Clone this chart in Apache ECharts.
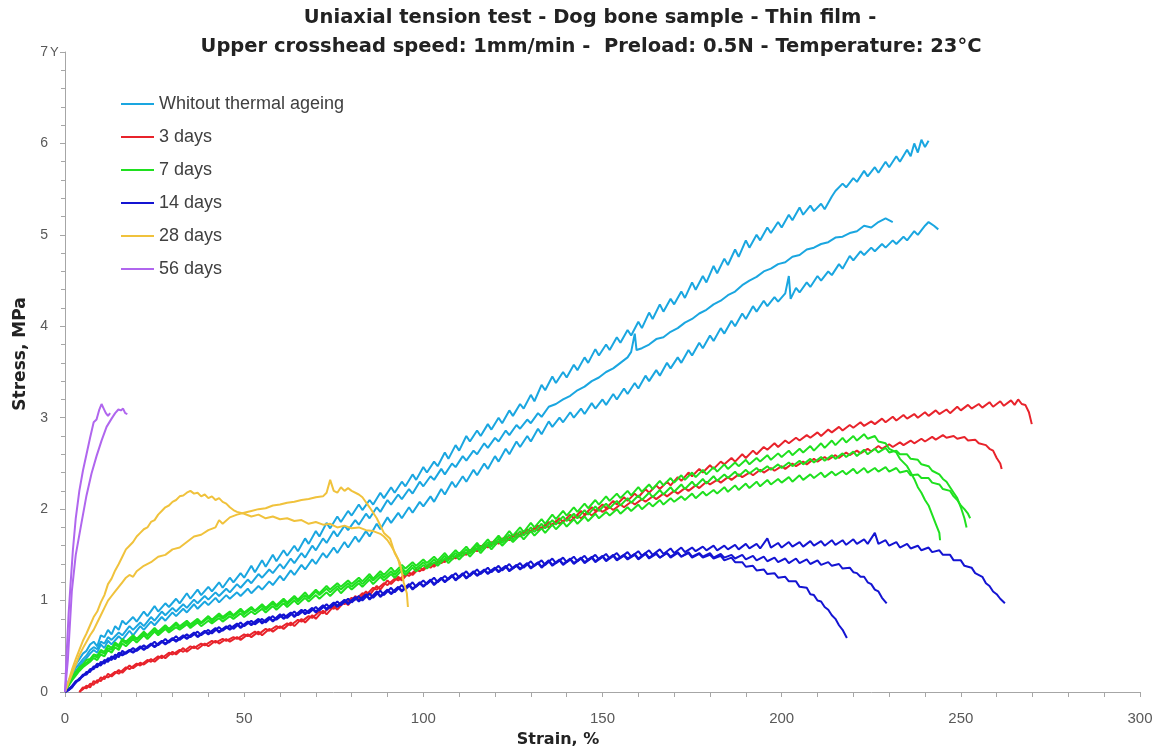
<!DOCTYPE html>
<html>
<head>
<meta charset="utf-8">
<script src="https://cdn.jsdelivr.net/npm/echarts@6/dist/echarts.min.js"></script>
<style>
  html, body { margin: 0; padding: 0; background: #fff; }
  #chart { width: 1157px; height: 752px; }
</style>
</head>
<body>
<div id="chart"></div>
<script>
// legend names, one per ageing time
const groupNames = ['Whitout thermal ageing', '3 days', '7 days', '14 days', '28 days', '56 days']
const xTicks = [0, 50, 100, 150, 200, 250, 300]
const yTicks = [0, 1, 2, 3, 4, 5, 6, 7]

// [strain %, stress MPa]
const unaged1 = [[0,0],[1,0.12],[2,0.2],[3,0.3],[4,0.36],[5,0.42],[6,0.45],[7,0.52],[8,0.55],[9,0.5],[10,0.62],[11,0.6],[12,0.68],[13,0.63],[14,0.72],[15,0.68],[16,0.78],[17,0.74],[19,0.82],[20,0.77],[22,0.88],[23,0.83],[25,0.94],[26,0.88],[28,0.97],[29,0.93],[31,1.02],[32,0.97],[34,1.08],[35,1.02],[37,1.12],[38,1.06],[40,1.15],[41,1.1],[43,1.2],[44,1.14],[46,1.25],[47,1.2],[49,1.3],[50,1.25],[52,1.38],[53,1.31],[55,1.44],[56,1.37],[58,1.5],[59,1.43],[61,1.55],[62,1.49],[64,1.6],[65,1.54],[67,1.68],[68,1.62],[70,1.76],[71,1.7],[73,1.85],[74,1.79],[76,1.92],[77,1.86],[79,1.98],[80,1.93],[82,2.05],[83,1.99],[85,2.1],[86,2.05],[88,2.18],[89,2.12],[91,2.24],[92,2.18],[94,2.3],[95,2.25],[97,2.38],[98,2.32],[100,2.46],[101,2.4],[103,2.52],[104,2.47],[106,2.62],[107,2.55],[109,2.7],[110,2.64],[112,2.8],[113,2.74],[115,2.86],[116,2.8],[118,2.93],[119,2.87],[121,3.0],[122,2.94],[124,3.08],[125,3.02],[127,3.15],[128,3.1],[130,3.25],[131,3.18],[133,3.36],[134,3.3],[136,3.45],[137,3.38],[139,3.5],[140,3.44],[142,3.58],[143,3.52],[145,3.66],[146,3.6],[148,3.75],[149,3.68],[151,3.8],[152,3.74],[154,3.88],[155,3.82],[157,3.96],[158,3.9],[160,4.05],[161,3.98],[163,4.15],[164,4.08],[166,4.24],[167,4.16],[169,4.3],[170,4.24],[172,4.38],[173,4.31],[175,4.48],[176,4.4],[178,4.55],[179,4.48],[181,4.66],[182,4.58],[184,4.74],[185,4.67],[187,4.84],[188,4.76],[190,4.94],[191,4.86],[193,5.0],[194,4.94],[196,5.08],[197,5.02],[199,5.14],[200,5.08],[202,5.22],[203,5.16],[205,5.3],[206,5.22],[208,5.32],[209,5.26],[211,5.34],[212,5.28],[214,5.42],[215,5.48],[217,5.56],[218,5.52],[220,5.62],[221,5.58],[223,5.7],[224,5.64],[226,5.74],[227,5.68],[229,5.8],[230,5.74],[232,5.86],[233,5.8],[235,5.93],[236,5.86],[237,6.0],[238,5.9],[239,6.04],[240,5.96],[241,6.03]]
const unaged2 = [[0,0],[1,0.1],[2,0.18],[3,0.26],[4,0.31],[5,0.36],[6,0.4],[7,0.46],[8,0.49],[9,0.47],[10,0.55],[11,0.53],[12,0.6],[13,0.57],[15,0.65],[16,0.62],[18,0.72],[19,0.68],[21,0.76],[22,0.72],[24,0.82],[25,0.78],[27,0.88],[28,0.84],[30,0.92],[31,0.88],[33,0.96],[34,0.92],[36,1.01],[37,0.97],[39,1.05],[40,1.01],[42,1.09],[43,1.05],[45,1.13],[46,1.09],[48,1.18],[49,1.14],[51,1.23],[52,1.19],[54,1.29],[55,1.25],[57,1.34],[58,1.3],[60,1.4],[61,1.35],[63,1.46],[64,1.41],[66,1.52],[67,1.47],[69,1.6],[70,1.55],[72,1.68],[73,1.63],[75,1.76],[76,1.7],[78,1.82],[79,1.77],[81,1.88],[82,1.83],[84,1.95],[85,1.9],[87,2.02],[88,1.97],[90,2.1],[91,2.05],[93,2.16],[94,2.11],[96,2.22],[97,2.17],[99,2.3],[100,2.25],[102,2.36],[103,2.32],[105,2.44],[106,2.38],[108,2.5],[109,2.46],[111,2.58],[112,2.53],[114,2.64],[115,2.6],[117,2.72],[118,2.67],[120,2.78],[121,2.74],[123,2.86],[124,2.81],[126,2.92],[127,2.88],[129,2.98],[130,2.94],[132,3.05],[133,3.01],[135,3.12],[137,3.15],[139,3.2],[141,3.24],[143,3.3],[145,3.34],[147,3.4],[149,3.44],[151,3.5],[153,3.54],[155,3.6],[157,3.66],[158,3.72],[159,3.92],[159.5,3.74],[161,3.76],[163,3.8],[165,3.86],[167,3.88],[169,3.94],[171,3.98],[173,4.04],[175,4.08],[177,4.14],[179,4.18],[181,4.24],[183,4.28],[185,4.34],[187,4.38],[189,4.45],[191,4.5],[193,4.54],[195,4.6],[197,4.63],[199,4.68],[201,4.7],[203,4.76],[205,4.78],[207,4.84],[209,4.86],[211,4.9],[213,4.92],[215,4.97],[217,4.98],[219,5.02],[221,5.04],[223,5.1],[225,5.08],[227,5.14],[229,5.18],[231,5.14]]
const unaged3 = [[0,0],[1,0.08],[2,0.15],[3,0.22],[4,0.28],[5,0.33],[6,0.37],[7,0.42],[8,0.46],[9,0.43],[10,0.52],[11,0.48],[12,0.56],[13,0.52],[15,0.61],[16,0.57],[18,0.67],[19,0.62],[21,0.72],[22,0.68],[24,0.77],[25,0.73],[27,0.82],[28,0.78],[30,0.87],[31,0.83],[33,0.91],[34,0.87],[36,0.96],[37,0.91],[39,0.99],[40,0.95],[42,1.03],[43,0.98],[45,1.06],[46,1.02],[48,1.09],[49,1.05],[51,1.13],[52,1.08],[54,1.16],[55,1.12],[57,1.21],[58,1.17],[60,1.27],[61,1.22],[63,1.33],[64,1.28],[66,1.39],[67,1.34],[69,1.45],[70,1.4],[72,1.52],[73,1.47],[75,1.58],[76,1.52],[78,1.64],[79,1.58],[81,1.7],[82,1.64],[84,1.76],[85,1.7],[87,1.84],[88,1.78],[90,1.91],[91,1.85],[93,1.96],[94,1.9],[96,2.02],[97,1.96],[99,2.08],[100,2.03],[102,2.14],[103,2.08],[105,2.22],[106,2.16],[108,2.3],[109,2.24],[111,2.36],[112,2.3],[114,2.43],[115,2.37],[117,2.5],[118,2.44],[120,2.58],[121,2.52],[123,2.66],[124,2.6],[126,2.74],[127,2.68],[129,2.8],[130,2.74],[132,2.88],[133,2.82],[135,2.96],[136,2.9],[138,3.0],[139,2.95],[141,3.06],[142,3.0],[144,3.1],[145,3.04],[147,3.16],[148,3.1],[150,3.2],[151,3.14],[153,3.26],[154,3.2],[156,3.32],[157,3.26],[159,3.38],[160,3.32],[162,3.46],[163,3.4],[165,3.52],[166,3.46],[168,3.6],[169,3.54],[171,3.66],[172,3.6],[174,3.74],[175,3.68],[177,3.82],[178,3.76],[180,3.9],[181,3.84],[183,3.98],[184,3.92],[186,4.06],[187,4.0],[189,4.14],[190,4.08],[192,4.22],[193,4.16],[195,4.28],[196,4.22],[198,4.32],[199,4.27],[201,4.36],[202,4.55],[202.5,4.3],[204,4.42],[205,4.37],[207,4.48],[208,4.43],[210,4.55],[211,4.5],[213,4.6],[214,4.56],[216,4.68],[217,4.63],[219,4.77],[220,4.72],[222,4.82],[223,4.78],[225,4.86],[226,4.82],[228,4.9],[229,4.86],[231,4.94],[232,4.9],[234,4.98],[235,4.94],[237,5.04],[238,5.0],[240,5.1],[241,5.14],[242.5,5.1],[243.7,5.06]]

const days3a = [[4,0],[5,0.03],[6,0.07],[7,0.05],[8,0.12],[9,0.1],[10,0.16],[11,0.14],[12,0.2],[13,0.17],[15,0.24],[16,0.21],[18,0.29],[19,0.26],[21,0.32],[22,0.3],[24,0.36],[25,0.33],[27,0.4],[28,0.37],[30,0.44],[31,0.41],[33,0.48],[34,0.44],[36,0.5],[37,0.47],[39,0.53],[40,0.5],[42,0.56],[43,0.53],[45,0.58],[46,0.55],[48,0.6],[49,0.57],[51,0.63],[52,0.6],[54,0.66],[55,0.62],[57,0.69],[58,0.66],[60,0.72],[61,0.69],[63,0.76],[64,0.72],[66,0.8],[67,0.76],[69,0.84],[70,0.8],[72,0.89],[73,0.85],[75,0.94],[76,0.9],[78,0.99],[79,0.95],[81,1.05],[82,1.01],[84,1.1],[85,1.06],[87,1.16],[88,1.12],[90,1.22],[91,1.18],[93,1.26],[94,1.22],[96,1.31],[97,1.28],[99,1.36],[100,1.33],[102,1.41],[103,1.37],[105,1.45],[106,1.42],[108,1.5],[109,1.46],[111,1.53],[112,1.5],[114,1.58],[115,1.54],[117,1.62],[118,1.58],[120,1.66],[121,1.62],[123,1.7],[124,1.66],[126,1.74],[127,1.7],[129,1.78],[130,1.75],[132,1.82],[133,1.78],[135,1.86],[136,1.82],[138,1.9],[139,1.86],[141,1.94],[142,1.9],[144,1.98],[145,1.94],[147,2.02],[148,1.98],[150,2.05],[151,2.01],[153,2.09],[154,2.05],[156,2.13],[157,2.09],[159,2.17],[160,2.13],[162,2.22],[163,2.18],[165,2.26],[166,2.22],[168,2.3],[169,2.26],[171,2.35],[172,2.31],[174,2.4],[175,2.36],[177,2.44],[178,2.4],[180,2.48],[181,2.44],[183,2.52],[184,2.49],[186,2.56],[187,2.52],[189,2.6],[190,2.56],[192,2.64],[193,2.6],[195,2.68],[196,2.65],[198,2.72],[199,2.68],[201,2.75],[202,2.72],[204,2.78],[205,2.75],[207,2.81],[208,2.78],[210,2.84],[211,2.8],[213,2.87],[214,2.84],[216,2.9],[217,2.86],[219,2.92],[220,2.89],[222,2.95],[223,2.91],[225,2.96],[226,2.93],[228,2.99],[229,2.95],[231,3.01],[232,2.97],[234,3.03],[235,2.99],[237,3.04],[238,3.0],[240,3.06],[241,3.02],[243,3.08],[244,3.04],[246,3.09],[247,3.05],[249,3.12],[250,3.08],[252,3.14],[253,3.1],[255,3.15],[256,3.11],[258,3.17],[259,3.12],[261,3.18],[262,3.13],[264,3.19],[265,3.14],[266,3.2],[267,3.15],[268,3.14],[269,3.06],[269.8,2.93]]
const days3b = [[4,0],[5,0.05],[6,0.04],[7,0.09],[8,0.08],[9,0.13],[10,0.12],[11,0.17],[12,0.16],[14,0.22],[15,0.2],[17,0.27],[18,0.25],[20,0.31],[21,0.29],[23,0.35],[24,0.33],[26,0.39],[27,0.37],[29,0.43],[30,0.41],[32,0.46],[33,0.44],[35,0.5],[36,0.48],[38,0.53],[39,0.51],[41,0.56],[42,0.54],[44,0.58],[45,0.56],[47,0.6],[48,0.58],[50,0.63],[51,0.61],[53,0.66],[54,0.63],[56,0.69],[57,0.67],[59,0.72],[60,0.7],[62,0.75],[63,0.73],[65,0.79],[66,0.77],[68,0.83],[69,0.81],[71,0.88],[72,0.86],[74,0.93],[75,0.91],[77,0.98],[78,0.96],[80,1.03],[81,1.01],[83,1.08],[84,1.06],[86,1.14],[87,1.12],[89,1.19],[90,1.17],[92,1.24],[93,1.22],[95,1.29],[96,1.27],[98,1.34],[99,1.32],[101,1.38],[102,1.36],[104,1.43],[105,1.41],[107,1.47],[108,1.45],[110,1.51],[111,1.49],[113,1.55],[114,1.53],[116,1.6],[117,1.57],[119,1.64],[120,1.61],[122,1.68],[123,1.65],[125,1.72],[126,1.69],[128,1.76],[129,1.73],[131,1.8],[132,1.77],[134,1.83],[135,1.8],[137,1.87],[138,1.84],[140,1.9],[141,1.87],[143,1.93],[144,1.9],[146,1.96],[147,1.93],[149,2.0],[150,1.97],[152,2.02],[153,1.99],[155,2.05],[156,2.02],[158,2.08],[159,2.05],[161,2.11],[162,2.08],[164,2.14],[165,2.11],[167,2.17],[168,2.14],[170,2.2],[171,2.17],[173,2.23],[174,2.2],[176,2.26],[177,2.23],[179,2.3],[180,2.27],[182,2.32],[183,2.29],[185,2.35],[186,2.32],[188,2.38],[189,2.35],[191,2.4],[192,2.37],[194,2.43],[195,2.4],[197,2.45],[198,2.42],[200,2.47],[201,2.44],[203,2.5],[204,2.47],[206,2.52],[207,2.49],[209,2.55],[210,2.52],[212,2.57],[213,2.54],[215,2.59],[216,2.56],[218,2.62],[219,2.59],[221,2.64],[222,2.61],[224,2.66],[225,2.63],[227,2.69],[228,2.66],[230,2.71],[231,2.68],[233,2.73],[234,2.7],[236,2.75],[237,2.72],[239,2.77],[240,2.74],[242,2.79],[243,2.76],[245,2.81],[246,2.78],[248,2.8],[249,2.77],[251,2.79],[252,2.75],[254,2.76],[255,2.72],[257,2.7],[258,2.66],[259,2.64],[260,2.56],[261,2.5],[261.4,2.44]]

const days7a = [[0,0],[1,0.09],[2,0.16],[3,0.22],[4,0.27],[5,0.3],[6,0.35],[7,0.36],[8,0.41],[9,0.4],[10,0.46],[11,0.44],[12,0.51],[13,0.48],[14,0.54],[15,0.51],[16,0.58],[17,0.55],[19,0.62],[20,0.58],[22,0.66],[23,0.62],[25,0.7],[26,0.66],[28,0.73],[29,0.69],[31,0.76],[32,0.72],[34,0.78],[35,0.74],[37,0.8],[38,0.76],[40,0.83],[41,0.79],[43,0.86],[44,0.82],[46,0.88],[47,0.84],[49,0.91],[50,0.87],[52,0.93],[53,0.89],[55,0.96],[56,0.92],[58,0.99],[59,0.95],[61,1.02],[62,0.98],[64,1.05],[65,1.01],[67,1.09],[68,1.04],[70,1.12],[71,1.08],[73,1.16],[74,1.12],[76,1.19],[77,1.15],[79,1.22],[80,1.18],[82,1.25],[83,1.21],[85,1.29],[86,1.24],[88,1.32],[89,1.28],[91,1.36],[92,1.31],[94,1.39],[95,1.35],[97,1.42],[98,1.38],[100,1.45],[101,1.41],[103,1.48],[104,1.44],[106,1.52],[107,1.47],[109,1.55],[110,1.51],[112,1.59],[113,1.54],[115,1.63],[116,1.58],[118,1.67],[119,1.62],[121,1.71],[122,1.66],[124,1.76],[125,1.71],[127,1.8],[128,1.75],[130,1.85],[131,1.8],[133,1.89],[134,1.84],[136,1.94],[137,1.89],[139,1.98],[140,1.93],[142,2.02],[143,1.97],[145,2.06],[146,2.01],[148,2.1],[149,2.05],[151,2.14],[152,2.09],[154,2.17],[155,2.12],[157,2.2],[158,2.15],[160,2.24],[161,2.19],[163,2.27],[164,2.22],[166,2.31],[167,2.26],[169,2.34],[170,2.29],[172,2.37],[173,2.32],[175,2.4],[176,2.35],[178,2.43],[179,2.38],[181,2.46],[182,2.41],[184,2.49],[185,2.44],[187,2.51],[188,2.47],[190,2.54],[191,2.49],[193,2.56],[194,2.52],[196,2.59],[197,2.54],[199,2.61],[200,2.57],[202,2.64],[203,2.59],[205,2.66],[206,2.62],[208,2.69],[209,2.64],[211,2.72],[212,2.67],[214,2.75],[215,2.7],[217,2.78],[218,2.73],[220,2.8],[221,2.75],[223,2.82],[224,2.77],[226,2.8],[227,2.74],[229,2.72],[230,2.66],[232,2.62],[233,2.55],[235,2.47],[236,2.4],[237,2.33],[238,2.24],[239,2.18],[240,2.1],[241,2.04],[242,1.94],[243,1.84],[244,1.74],[244.2,1.66]]
const days7b = [[0,0],[1,0.08],[2,0.14],[3,0.2],[4,0.25],[5,0.29],[6,0.32],[7,0.35],[8,0.39],[9,0.38],[10,0.44],[11,0.42],[12,0.48],[13,0.46],[14,0.52],[15,0.49],[16,0.56],[17,0.53],[19,0.6],[20,0.57],[22,0.64],[23,0.61],[25,0.68],[26,0.64],[28,0.71],[29,0.67],[31,0.74],[32,0.7],[34,0.76],[35,0.72],[37,0.78],[38,0.75],[40,0.81],[41,0.77],[43,0.84],[44,0.8],[46,0.86],[47,0.83],[49,0.89],[50,0.85],[52,0.91],[53,0.88],[55,0.94],[56,0.9],[58,0.97],[59,0.93],[61,1.0],[62,0.96],[64,1.03],[65,0.99],[67,1.06],[68,1.02],[70,1.1],[71,1.06],[73,1.13],[74,1.09],[76,1.16],[77,1.12],[79,1.19],[80,1.15],[82,1.22],[83,1.18],[85,1.26],[86,1.22],[88,1.29],[89,1.25],[91,1.32],[92,1.28],[94,1.36],[95,1.31],[97,1.39],[98,1.35],[100,1.42],[101,1.38],[103,1.45],[104,1.41],[106,1.49],[107,1.44],[109,1.52],[110,1.48],[112,1.56],[113,1.51],[115,1.6],[116,1.55],[118,1.64],[119,1.59],[121,1.68],[122,1.63],[124,1.72],[125,1.67],[127,1.76],[128,1.71],[130,1.8],[131,1.75],[133,1.84],[134,1.79],[136,1.88],[137,1.83],[139,1.92],[140,1.87],[142,1.95],[143,1.9],[145,1.99],[146,1.94],[148,2.03],[149,1.98],[151,2.06],[152,2.01],[154,2.09],[155,2.04],[157,2.12],[158,2.07],[160,2.15],[161,2.1],[163,2.18],[164,2.13],[166,2.21],[167,2.16],[169,2.24],[170,2.19],[172,2.27],[173,2.22],[175,2.3],[176,2.25],[178,2.33],[179,2.28],[181,2.36],[182,2.31],[184,2.38],[185,2.34],[187,2.41],[188,2.36],[190,2.43],[191,2.39],[193,2.45],[194,2.41],[196,2.47],[197,2.43],[199,2.49],[200,2.45],[202,2.51],[203,2.47],[205,2.53],[206,2.49],[208,2.55],[209,2.51],[211,2.57],[212,2.53],[214,2.59],[215,2.55],[217,2.61],[218,2.57],[220,2.63],[221,2.58],[223,2.65],[224,2.6],[226,2.66],[227,2.62],[229,2.67],[230,2.62],[232,2.64],[233,2.6],[235,2.6],[236,2.55],[238,2.54],[239,2.49],[241,2.47],[242,2.42],[244,2.38],[245,2.33],[246,2.3],[247,2.24],[248,2.18],[249,2.12],[250,2.02],[251,1.9],[251.6,1.8]]
const days7c = [[0,0],[1,0.07],[2,0.13],[3,0.18],[4,0.23],[5,0.27],[6,0.3],[7,0.33],[8,0.37],[9,0.35],[10,0.41],[11,0.39],[12,0.46],[13,0.43],[14,0.49],[15,0.46],[16,0.53],[17,0.5],[19,0.58],[20,0.54],[22,0.62],[23,0.58],[25,0.66],[26,0.62],[28,0.69],[29,0.65],[31,0.71],[32,0.68],[34,0.74],[35,0.7],[37,0.76],[38,0.72],[40,0.78],[41,0.75],[43,0.81],[44,0.77],[46,0.83],[47,0.8],[49,0.86],[50,0.82],[52,0.88],[53,0.85],[55,0.91],[56,0.87],[58,0.94],[59,0.9],[61,0.97],[62,0.93],[64,1.0],[65,0.96],[67,1.03],[68,0.99],[70,1.06],[71,1.02],[73,1.09],[74,1.05],[76,1.13],[77,1.08],[79,1.16],[80,1.12],[82,1.19],[83,1.15],[85,1.23],[86,1.18],[88,1.26],[89,1.22],[91,1.29],[92,1.25],[94,1.33],[95,1.28],[97,1.36],[98,1.32],[100,1.39],[101,1.35],[103,1.42],[104,1.38],[106,1.46],[107,1.41],[109,1.49],[110,1.45],[112,1.53],[113,1.48],[115,1.57],[116,1.52],[118,1.61],[119,1.56],[121,1.65],[122,1.6],[124,1.68],[125,1.64],[127,1.72],[128,1.67],[130,1.76],[131,1.71],[133,1.79],[134,1.74],[136,1.83],[137,1.78],[139,1.86],[140,1.81],[142,1.89],[143,1.84],[145,1.92],[146,1.87],[148,1.95],[149,1.9],[151,1.97],[152,1.93],[154,2.0],[155,1.95],[157,2.02],[158,1.98],[160,2.05],[161,2.0],[163,2.07],[164,2.03],[166,2.1],[167,2.05],[169,2.12],[170,2.08],[172,2.14],[173,2.1],[175,2.17],[176,2.12],[178,2.19],[179,2.15],[181,2.21],[182,2.17],[184,2.24],[185,2.19],[187,2.26],[188,2.21],[190,2.28],[191,2.23],[193,2.3],[194,2.25],[196,2.32],[197,2.27],[199,2.33],[200,2.29],[202,2.35],[203,2.3],[205,2.37],[206,2.32],[208,2.38],[209,2.34],[211,2.4],[212,2.35],[214,2.41],[215,2.37],[217,2.42],[218,2.38],[220,2.44],[221,2.39],[223,2.45],[224,2.4],[226,2.45],[227,2.41],[229,2.46],[230,2.41],[232,2.45],[233,2.4],[235,2.42],[236,2.37],[238,2.38],[239,2.34],[241,2.34],[242,2.29],[244,2.27],[245,2.22],[247,2.2],[248,2.14],[249,2.1],[250,2.04],[251,2.0],[252,1.95],[252.6,1.9]]

const days14a = [[0,0],[1,0.02],[2,0.06],[3,0.1],[4,0.15],[5,0.17],[6,0.22],[7,0.22],[8,0.28],[9,0.27],[10,0.33],[11,0.31],[12,0.37],[13,0.35],[14,0.41],[15,0.38],[16,0.45],[17,0.42],[19,0.48],[20,0.45],[22,0.51],[23,0.48],[25,0.55],[26,0.51],[28,0.58],[29,0.54],[31,0.61],[32,0.57],[34,0.63],[35,0.6],[37,0.66],[38,0.62],[40,0.68],[41,0.64],[43,0.71],[44,0.67],[46,0.73],[47,0.69],[49,0.76],[50,0.72],[52,0.78],[53,0.74],[55,0.8],[56,0.76],[58,0.83],[59,0.79],[61,0.85],[62,0.81],[64,0.88],[65,0.84],[67,0.9],[68,0.86],[70,0.93],[71,0.89],[73,0.96],[74,0.92],[76,0.99],[77,0.95],[79,1.02],[80,0.98],[82,1.05],[83,1.0],[85,1.08],[86,1.03],[88,1.11],[89,1.06],[91,1.14],[92,1.09],[94,1.17],[95,1.12],[97,1.2],[98,1.15],[100,1.22],[101,1.18],[103,1.25],[104,1.2],[106,1.27],[107,1.23],[109,1.3],[110,1.25],[112,1.32],[113,1.27],[115,1.34],[116,1.29],[118,1.36],[119,1.31],[121,1.38],[122,1.33],[124,1.4],[125,1.35],[127,1.41],[128,1.36],[130,1.43],[131,1.38],[133,1.44],[134,1.39],[136,1.46],[137,1.41],[139,1.47],[140,1.42],[142,1.48],[143,1.43],[145,1.49],[146,1.44],[148,1.5],[149,1.45],[151,1.51],[152,1.46],[154,1.52],[155,1.47],[157,1.53],[158,1.48],[160,1.54],[161,1.49],[163,1.55],[164,1.5],[166,1.56],[167,1.51],[169,1.57],[170,1.52],[172,1.58],[173,1.53],[175,1.58],[176,1.54],[178,1.59],[179,1.55],[181,1.6],[182,1.55],[184,1.6],[185,1.56],[187,1.61],[188,1.56],[190,1.62],[191,1.57],[193,1.62],[194,1.57],[196,1.68],[197,1.58],[199,1.63],[200,1.58],[202,1.64],[203,1.59],[205,1.64],[206,1.59],[208,1.65],[209,1.6],[211,1.65],[212,1.6],[214,1.66],[215,1.61],[217,1.66],[218,1.61],[220,1.67],[221,1.62],[223,1.67],[224,1.62],[226,1.74],[227,1.62],[229,1.66],[230,1.6],[232,1.64],[233,1.58],[235,1.62],[236,1.57],[238,1.6],[239,1.55],[241,1.58],[242,1.53],[244,1.55],[245,1.5],[247,1.5],[248,1.44],[250,1.44],[251,1.38],[253,1.36],[254,1.3],[256,1.26],[257,1.19],[258,1.16],[259,1.1],[260,1.07],[261,1.02],[262.3,0.97]]
const days14b = [[0,0],[1,0.03],[2,0.07],[3,0.12],[4,0.14],[5,0.19],[6,0.2],[7,0.25],[8,0.26],[9,0.31],[10,0.3],[11,0.35],[12,0.34],[13,0.39],[14,0.37],[15,0.43],[16,0.41],[18,0.46],[19,0.44],[21,0.5],[22,0.47],[24,0.53],[25,0.5],[27,0.56],[28,0.53],[30,0.59],[31,0.56],[33,0.62],[34,0.59],[36,0.65],[37,0.61],[39,0.67],[40,0.64],[42,0.7],[43,0.66],[45,0.72],[46,0.69],[48,0.75],[49,0.71],[51,0.77],[52,0.74],[54,0.8],[55,0.76],[57,0.82],[58,0.78],[60,0.85],[61,0.81],[63,0.87],[64,0.83],[66,0.9],[67,0.86],[69,0.92],[70,0.88],[72,0.95],[73,0.91],[75,0.98],[76,0.94],[78,1.01],[79,0.97],[81,1.04],[82,1.0],[84,1.07],[85,1.02],[87,1.1],[88,1.05],[90,1.12],[91,1.08],[93,1.15],[94,1.11],[96,1.18],[97,1.13],[99,1.2],[100,1.16],[102,1.23],[103,1.18],[105,1.25],[106,1.21],[108,1.28],[109,1.23],[111,1.3],[112,1.25],[114,1.32],[115,1.28],[117,1.34],[118,1.3],[120,1.36],[121,1.32],[123,1.38],[124,1.33],[126,1.39],[127,1.35],[129,1.41],[130,1.36],[132,1.42],[133,1.37],[135,1.44],[136,1.39],[138,1.45],[139,1.4],[141,1.46],[142,1.41],[144,1.47],[145,1.42],[147,1.48],[148,1.43],[150,1.49],[151,1.44],[153,1.5],[154,1.45],[156,1.5],[157,1.46],[159,1.51],[160,1.46],[162,1.52],[163,1.47],[165,1.52],[166,1.47],[168,1.52],[169,1.48],[171,1.53],[172,1.48],[174,1.53],[175,1.48],[177,1.52],[178,1.48],[180,1.52],[181,1.47],[183,1.51],[184,1.47],[186,1.5],[187,1.46],[189,1.5],[190,1.45],[192,1.49],[193,1.44],[195,1.48],[196,1.43],[198,1.47],[199,1.42],[201,1.46],[202,1.41],[204,1.46],[205,1.41],[207,1.45],[208,1.4],[210,1.44],[211,1.39],[213,1.42],[214,1.38],[216,1.4],[217,1.35],[219,1.36],[220,1.31],[221,1.3],[222,1.26],[223,1.26],[224,1.2],[225,1.18],[226,1.12],[227,1.1],[228,1.03],[229.3,0.97]]
const days14c = [[0,0],[1,0.02],[2,0.05],[3,0.11],[4,0.13],[5,0.18],[6,0.19],[7,0.24],[8,0.25],[9,0.3],[10,0.29],[11,0.34],[12,0.33],[13,0.38],[14,0.36],[15,0.42],[16,0.4],[18,0.45],[19,0.43],[21,0.49],[22,0.46],[24,0.52],[25,0.49],[27,0.55],[28,0.52],[30,0.58],[31,0.55],[33,0.61],[34,0.58],[36,0.64],[37,0.6],[39,0.66],[40,0.63],[42,0.69],[43,0.65],[45,0.71],[46,0.68],[48,0.74],[49,0.7],[51,0.76],[52,0.73],[54,0.79],[55,0.75],[57,0.81],[58,0.77],[60,0.84],[61,0.8],[63,0.86],[64,0.82],[66,0.89],[67,0.85],[69,0.91],[70,0.87],[72,0.94],[73,0.9],[75,0.97],[76,0.93],[78,1.0],[79,0.96],[81,1.03],[82,0.99],[84,1.06],[85,1.01],[87,1.09],[88,1.04],[90,1.11],[91,1.07],[93,1.14],[94,1.1],[96,1.17],[97,1.12],[99,1.19],[100,1.15],[102,1.22],[103,1.17],[105,1.24],[106,1.2],[108,1.27],[109,1.22],[111,1.29],[112,1.24],[114,1.31],[115,1.27],[117,1.33],[118,1.29],[120,1.35],[121,1.31],[123,1.37],[124,1.32],[126,1.38],[127,1.34],[129,1.4],[130,1.35],[132,1.41],[133,1.36],[135,1.43],[136,1.38],[138,1.44],[139,1.39],[141,1.45],[142,1.4],[144,1.46],[145,1.41],[147,1.47],[148,1.42],[150,1.48],[151,1.43],[153,1.49],[154,1.44],[156,1.49],[157,1.45],[159,1.5],[160,1.45],[162,1.51],[163,1.46],[165,1.51],[166,1.47],[168,1.52],[169,1.47],[171,1.52],[172,1.48],[174,1.52],[175,1.47],[177,1.51],[178,1.47],[180,1.5],[181,1.46],[183,1.49],[184,1.44],[186,1.47],[187,1.42],[189,1.42],[190,1.37],[192,1.38],[193,1.33],[195,1.34],[196,1.29],[198,1.3],[199,1.25],[201,1.26],[202,1.21],[204,1.21],[205,1.15],[207,1.14],[208,1.07],[209,1.06],[210,1.0],[211,0.99],[212,0.93],[213,0.9],[214,0.84],[215,0.8],[216,0.73],[217,0.68],[218.2,0.59]]

const days28a = [[0,0],[1,0.12],[2,0.25],[3,0.36],[4,0.46],[5,0.56],[6,0.64],[7,0.73],[8,0.82],[9,0.88],[10,0.98],[11,1.06],[12,1.18],[13,1.24],[14,1.33],[15,1.4],[16,1.48],[17,1.56],[18,1.6],[19,1.64],[20,1.7],[21,1.74],[22,1.78],[23,1.8],[24,1.86],[25,1.88],[26,1.94],[27,1.98],[28,2.02],[29,2.04],[30,2.08],[31,2.1],[32,2.14],[33,2.15],[34,2.18],[35,2.2],[36,2.17],[37,2.18],[38,2.14],[39,2.16],[40,2.12],[41,2.14],[42,2.1],[43,2.12],[44,2.08],[45,2.06],[46,2.02],[47,1.99],[48,1.97],[50,1.95],[52,1.92],[54,1.94],[56,1.9],[58,1.92],[60,1.89],[62,1.9],[64,1.87],[66,1.88],[68,1.84],[70,1.86],[72,1.83],[74,1.84],[76,1.8],[78,1.82],[80,1.79],[82,1.8],[84,1.77],[86,1.76],[88,1.73],[89,1.7],[90,1.66],[91,1.6],[92,1.53],[93,1.45],[93.5,1.37]]
const days28b = [[0,0],[1,0.1],[2,0.2],[3,0.3],[4,0.4],[5,0.48],[6,0.55],[7,0.62],[8,0.68],[9,0.76],[10,0.84],[11,0.92],[12,1.0],[13,1.05],[14,1.1],[15,1.15],[16,1.2],[17,1.25],[18,1.28],[19,1.26],[20,1.32],[21,1.35],[22,1.38],[24,1.42],[26,1.48],[28,1.5],[30,1.56],[32,1.58],[34,1.64],[36,1.7],[38,1.72],[40,1.77],[42,1.8],[43,1.88],[44,1.84],[46,1.91],[48,1.94],[50,1.96],[52,1.98],[54,2.0],[56,2.01],[58,2.04],[60,2.05],[62,2.07],[64,2.08],[66,2.1],[68,2.11],[70,2.13],[72,2.14],[73,2.18],[74,2.32],[75,2.2],[76,2.18],[77,2.24],[78,2.2],[79,2.23],[80,2.2],[82,2.16],[83,2.13],[85,2.02],[87,1.9],[89,1.74],[90.7,1.68],[92,1.52],[93.5,1.41],[94.5,1.2],[95.4,1.08],[95.7,0.93]]

const days56a = [[0,0],[0.5,0.45],[1,0.85],[1.5,1.15],[2.2,1.55],[3,1.9],[4,2.2],[5,2.42],[6,2.6],[7,2.78],[8,2.95],[8.8,2.98],[9.5,3.08],[10.2,3.15],[10.8,3.1],[11.4,3.05],[12,3.02],[12.6,3.05]]
const days56b = [[0,0],[0.8,0.35],[1.9,1.1],[3,1.5],[4.6,1.85],[6,2.15],[7.4,2.39],[8.8,2.58],[10.2,2.75],[11.6,2.9],[13,2.99],[14,3.05],[14.9,3.09],[15.6,3.08],[16.2,3.1],[16.8,3.05],[17.4,3.04]]

const colors = ['#1aa6e0', '#e8232b', '#1fe01f', '#1414d2', '#f0c23c', '#b066ee']
const curves = [
  [unaged1, unaged2, unaged3],
  [days3a, days3b],
  [days7a, days7b, days7c],
  [days14a, days14b, days14c],
  [days28a, days28b],
  [days56a, days56b],
]

const chart = echarts.init(document.getElementById('chart'))

const series = []
curves.forEach((group, i) => {
  group.forEach((data) => {
    series.push({
      name: groupNames[i],
      type: 'line',
      data: data,
      symbol: 'none',
      showSymbol: false,
      color: colors[i],
      lineStyle: { color: colors[i], width: 2 },
      animation: false,
    })
  })
})

const axisFont = 'Liberation Sans Narrow, Liberation Sans, Arial, sans-serif'
const boldFont = 'DejaVu Sans, Arial, sans-serif'

const option = {
  animation: false,
  backgroundColor: '#fff',
  graphic: [
    {
      type: 'text',
      x: 590,
      y: 18,
      style: {
        text: 'Uniaxial tension test - Dog bone sample - Thin film -',
        font: 'bold 19.5px ' + boldFont,
        fill: '#222',
        align: 'center',
        verticalAlign: 'middle',
      },
    },
    {
      type: 'text',
      x: 591,
      y: 47,
      style: {
        text: 'Upper crosshead speed: 1mm/min -  Preload: 0.5N - Temperature: 23°C',
        font: 'bold 19.5px ' + boldFont,
        fill: '#222',
        align: 'center',
        verticalAlign: 'middle',
      },
    },
    {
      type: 'text',
      x: 558,
      y: 740,
      style: {
        text: 'Strain, %',
        font: 'bold 16px ' + boldFont,
        fill: '#222',
        align: 'center',
        verticalAlign: 'middle',
      },
    },
    {
      type: 'text',
      x: 21,
      y: 354,
      rotation: Math.PI / 2,
      style: {
        text: 'Stress, MPa',
        font: 'bold 17px ' + boldFont,
        fill: '#222',
        align: 'center',
        verticalAlign: 'middle',
      },
    },
    {
      type: 'text',
      x: 50,
      y: 52,
      style: {
        text: 'Y',
        font: '13px ' + axisFont,
        fill: '#595959',
        align: 'left',
        verticalAlign: 'middle',
      },
    },
  ],
  legend: {
    data: groupNames,
    orient: 'vertical',
    left: 115,
    top: 90,
    itemGap: 15,
    itemWidth: 33,
    itemHeight: 14,
    itemStyle: { opacity: 0 },
    lineStyle: { width: 2 },
    textStyle: { fontSize: 18, color: '#404040', fontFamily: 'Liberation Sans, Arial, sans-serif' },
  },
  grid: {
    left: 65,
    right: 17,
    top: 52,
    bottom: 60,
  },
  xAxis: {
    type: 'value',
    min: xTicks[0],
    max: xTicks[xTicks.length - 1],
    interval: 50,
    axisLine: { lineStyle: { color: '#a6a6a6' } },
    axisTick: { show: true, length: 5, lineStyle: { color: '#a6a6a6' } },
    minorTick: { show: true, splitNumber: 5, length: 5, lineStyle: { color: '#a6a6a6' } },
    splitLine: { show: false },
    axisLabel: { color: '#595959', fontSize: 15, fontFamily: axisFont, margin: 19 },
  },
  yAxis: {
    type: 'value',
    min: yTicks[0],
    max: yTicks[yTicks.length - 1],
    interval: 1,
    axisLine: { show: true, lineStyle: { color: '#a6a6a6' } },
    axisTick: { show: true, length: 5, lineStyle: { color: '#a6a6a6' } },
    minorTick: { show: true, splitNumber: 5, length: 4, lineStyle: { color: '#a6a6a6' } },
    splitLine: { show: false },
    axisLabel: { color: '#595959', fontSize: 14, fontFamily: axisFont, margin: 17 },
  },
  series: series,
}

chart.setOption(option)
</script>
</body>
</html>
